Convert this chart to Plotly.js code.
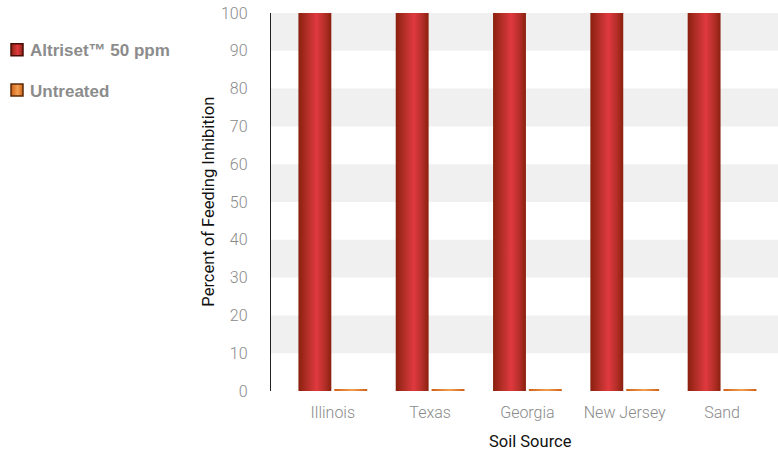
<!DOCTYPE html>
<html>
<head>
<meta charset="utf-8">
<script src="https://cdn.plot.ly/plotly-3.0.1.min.js"></script>
<style>
  html, body { margin: 0; padding: 0; background: #fff; }
  #chart { width: 778px; height: 453px; }
</style>
</head>
<body>
<div id="chart"></div>
<script>
// ---- data ----
const categories = ["Illinois", "Texas", "Georgia", "New Jersey", "Sand"];
const altrisetValues = [100, 100, 100, 100, 100];
const untreatedValues = [0.5, 0.5, 0.5, 0.5, 0.5];
const seriesNames = ["Altriset™ 50 ppm", "Untreated"];
const yTickValues = [0, 10, 20, 30, 40, 50, 60, 70, 80, 90, 100];
const bandStarts = [10, 30, 50, 70, 90];
const bandSize = 10;

const tickFont = { family: "Roboto, 'Liberation Sans', sans-serif", size: 16, color: "#8a8a8a", weight: 300 };
const titleFont = { family: "Roboto, 'Liberation Sans', sans-serif", size: 16.5, color: "#111" };

const traces = [
  {
    type: "bar", name: seriesNames[0], x: categories, y: altrisetValues,
    marker: { color: "#c4312e", line: { width: 0 } },
    legendgroup: "a", hoverinfo: "x+y"
  },
  {
    type: "bar", name: seriesNames[1], x: categories, y: untreatedValues,
    marker: { color: "#e27a2c", line: { width: 0 } },
    legendgroup: "b", hoverinfo: "x+y"
  }
];

const shapes = bandStarts.map(b => ({
  type: "rect", xref: "paper", yref: "y", x0: 0, x1: 1, y0: b, y1: b + bandSize,
  fillcolor: "#f0f0f0", line: { width: 0 }, layer: "below"
}));

const layout = {
  width: 778, height: 453,
  margin: { l: 269, r: 0, t: 13, b: 62 },
  paper_bgcolor: "#ffffff", plot_bgcolor: "#ffffff",
  barmode: "group", bargap: 0.263, bargroupgap: 0.083,
  showlegend: true,
  legend: {
    x: -0.536, xanchor: "left", y: 0.949, yanchor: "top",
    font: { family: "'Liberation Sans', Arial, sans-serif", size: 17, color: "#8c8c8c", weight: "bold" },
    tracegroupgap: 15, traceorder: "grouped", bgcolor: "rgba(0,0,0,0)"
  },
  xaxis: {
    type: "category", range: [-0.635, 4.575], showgrid: false, zeroline: false,
    showline: false, ticks: "", tickfont: tickFont, ticklabelstandoff: 10, fixedrange: true
  },
  yaxis: {
    range: [0, 100], tickvals: yTickValues, showgrid: false, zeroline: false,
    showline: true, linecolor: "#222", linewidth: 1.2, ticks: "",
    tickfont: tickFont, ticklabelstandoff: 19, fixedrange: true
  },
  shapes: shapes,
  annotations: [
    { text: "Percent of Feeding Inhibition", xref: "paper", yref: "paper", x: -0.125, y: 0.5,
      xanchor: "center", yanchor: "middle", textangle: -90, showarrow: false, font: titleFont },
    { text: "Soil Source", xref: "paper", yref: "paper", x: 0.512, y: -0.133,
      xanchor: "center", yanchor: "middle", showarrow: false, font: titleFont }
  ]
};

function applyGradients() {
  const svg = document.querySelector("#chart .main-svg");
  const ns = "http://www.w3.org/2000/svg";
  let defs = svg.querySelector("defs");
  if (!defs) { defs = document.createElementNS(ns, "defs"); svg.insertBefore(defs, svg.firstChild); }
  function grad(id, stops) {
    if (document.getElementById(id)) return;
    const g = document.createElementNS(ns, "linearGradient");
    g.setAttribute("id", id); g.setAttribute("x1", "0"); g.setAttribute("x2", "1");
    g.setAttribute("y1", "0"); g.setAttribute("y2", "0");
    stops.forEach(s => {
      const st = document.createElementNS(ns, "stop");
      st.setAttribute("offset", s[0]); st.setAttribute("stop-color", s[1]);
      g.appendChild(st);
    });
    defs.appendChild(g);
  }
  grad("gradRed", [["0", "#8a200e"], ["0.3", "#b8302a"], ["0.55", "#e0393f"], ["0.8", "#b52f28"], ["1", "#8a200e"]]);
  grad("gradOrange", [["0", "#d0601a"], ["0.55", "#f2a050"], ["1", "#d0601a"]]);
  const ids = ["gradRed", "gradOrange"];
  const strokes = ["#4a0c06", "#5a2a08"];
  document.querySelectorAll("#chart .barlayer .trace.bars").forEach((t, i) => {
    t.querySelectorAll(".point path").forEach(p => { p.style.fill = "url(#" + ids[i] + ")"; });
  });
  document.querySelectorAll("#chart .legend .traces").forEach((t, i) => {
    t.querySelectorAll(".legendpoints path").forEach(p => {
      p.style.fill = "url(#" + ids[i] + ")";
      p.style.stroke = strokes[i]; p.style.strokeWidth = "1.5px";
    });
    t.querySelectorAll(".legendpoints").forEach(lp => { lp.setAttribute("transform", "translate(-3,0)"); });
    t.querySelectorAll("text.legendtext").forEach(tx => { tx.setAttribute("x", "30"); });
  });
}

Plotly.newPlot("chart", traces, layout, { displayModeBar: false, staticPlot: true }).then(applyGradients);
</script>
</body>
</html>
